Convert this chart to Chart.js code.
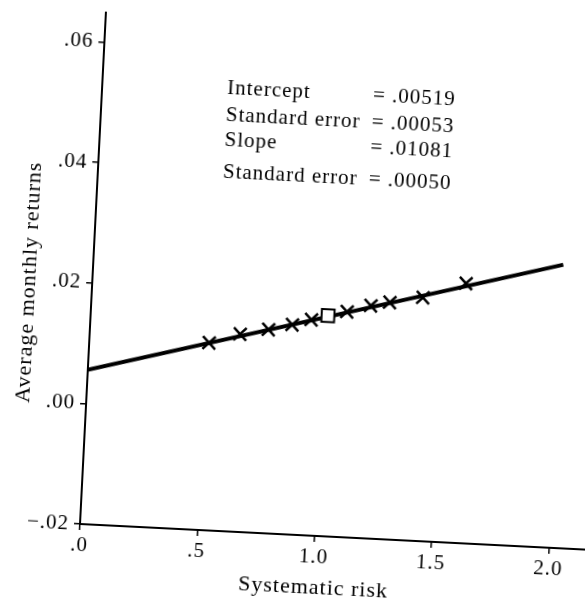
<!DOCTYPE html>
<html>
<head>
<meta charset="utf-8">
<script src="https://cdn.jsdelivr.net/npm/chart.js@4.4.0/dist/chart.umd.min.js"></script>
<style>
  html, body { margin: 0; padding: 0; background: #fff; overflow: hidden; width: 585px; height: 610px; }
  /* the scanned figure sits a few degrees off square */
  #chart { position: absolute; left: 0; top: 0; transform-origin: 80px 524px; transform: rotate(2.9deg); }
</style>
</head>
<body>
<canvas id="chart" width="608" height="610"></canvas>
<script>
// Axis ticks
const xTicks = [0, 0.5, 1.0, 1.5, 2.0];
const xTickLabels = ['.0', '.5', '1.0', '1.5', '2.0'];
const yTicks = [-0.02, 0, 0.02, 0.04, 0.06];
const yTickLabels = ['\u2212.02', '.00', '.02', '.04', '.06'];

// Portfolios: systematic risk vs average monthly return (x marks)
const betas   = [0.51, 0.64, 0.76, 0.86, 0.94, 1.09, 1.19, 1.27, 1.41, 1.59];
const returns = [0.0111, 0.0128, 0.0138, 0.0148, 0.0158, 0.0174, 0.0186, 0.0193, 0.0204, 0.0231];

// Market portfolio (square)
const marketBeta   = [1.01];
const marketReturn = [0.0166];

// Fitted line end points
const fitX = [0, 2.0];
const fitY = [0.0056, 0.0270];

// Regression stats box
const statLabels = ['Intercept', 'Standard error', 'Slope', 'Standard error'];
const statValues = ['= .00519', '= .00053', '= .01081', '= .00050'];

const FONT = '"Liberation Serif", "DejaVu Serif", serif';
const INK = '#000';

const toPoints = (xs, ys) => xs.map((x, i) => ({ x: x, y: ys[i] }));

// a little tracking so the serif text spreads like the scan
const spacing = {
    id: 'spacing',
    beforeUpdate(chart) { chart.ctx.letterSpacing = '1px'; },
    beforeDraw(chart) { chart.ctx.letterSpacing = '1px'; }
};

// stats block + axis titles
const labels = {
    id: 'labels',
    afterDraw(chart) {
        const ctx = chart.ctx;
        ctx.save();
        ctx.fillStyle = INK;
        ctx.font = '21px ' + FONT;
        ctx.textBaseline = 'alphabetic';
        ctx.textAlign = 'left';
        const rows = [87, 114, 139, 171];
        statLabels.forEach((s, i) => {
            ctx.fillText(s, 205, rows[i]);
            ctx.fillText(statValues[i], 351, rows[i]);
        });

        ctx.font = '22px ' + FONT;
        ctx.textAlign = 'center';
        ctx.textBaseline = 'middle';
        ctx.fillText('Systematic risk', 316, 576);

        ctx.translate(17, 285);
        ctx.rotate(-Math.PI / 2);
        ctx.fillText('Average monthly returns', 0, 0);
        ctx.restore();
    }
};

new Chart(document.getElementById('chart'), {
    type: 'scatter',
    data: {
        datasets: [
            {
                type: 'line',
                data: toPoints(fitX, fitY),
                borderColor: INK,
                borderWidth: 4,
                pointRadius: 0,
                fill: false,
                order: 2
            },
            {
                data: toPoints(betas, returns),
                pointStyle: 'crossRot',
                pointRadius: 9,
                borderColor: INK,
                backgroundColor: INK,
                borderWidth: 2.5,
                order: 1
            },
            {
                data: toPoints(marketBeta, marketReturn),
                pointStyle: 'rect',
                pointRadius: 9,
                borderColor: INK,
                backgroundColor: '#fff',
                borderWidth: 2,
                order: 0
            }
        ]
    },
    options: {
        responsive: false,
        animation: false,
        layout: { padding: { top: 7, right: 0, left: 0, bottom: 0 } },
        plugins: {
            legend: { display: false },
            tooltip: { enabled: false }
        },
        scales: {
            x: {
                type: 'linear',
                position: 'bottom',
                min: 0,
                max: 2.2,
                afterBuildTicks: s => { s.ticks = xTicks.map(v => ({ value: v })); },
                afterFit: s => {
                    s.height = 86;
                    s.paddingLeft = 0;
                    s.paddingRight = 0;
                },
                border: { color: INK, width: 2 },
                grid: { drawOnChartArea: false, drawTicks: true, tickLength: 6, color: INK, lineWidth: 1.5 },
                ticks: {
                    color: INK,
                    font: { family: FONT, size: 21 },
                    padding: 3,
                    maxRotation: 0,
                    callback: (v, i) => xTickLabels[i]
                }
            },
            y: {
                type: 'linear',
                position: 'left',
                min: -0.02,
                max: 0.065,
                afterBuildTicks: s => { s.ticks = yTicks.map(v => ({ value: v })); },
                afterFit: s => {
                    s.width = 80;
                    s.paddingTop = 0;
                    s.paddingBottom = 0;
                },
                border: { color: INK, width: 2 },
                grid: { drawOnChartArea: false, drawTicks: true, tickLength: 6, color: INK, lineWidth: 1.5 },
                ticks: {
                    color: INK,
                    font: { family: FONT, size: 21 },
                    padding: 5,
                    callback: (v, i) => yTickLabels[i]
                }
            }
        }
    },
    plugins: [spacing, labels]
});
</script>
</body>
</html>
